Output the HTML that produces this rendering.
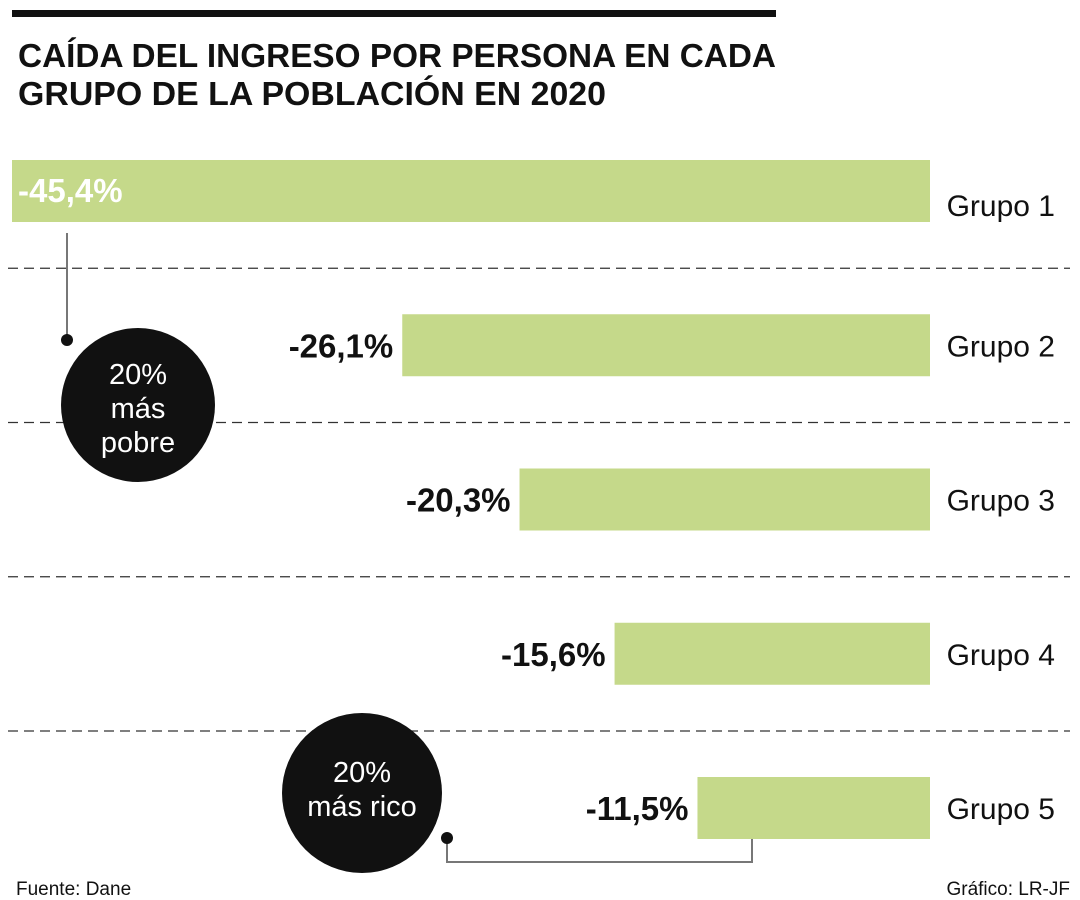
<!DOCTYPE html>
<html><head><meta charset="utf-8"><style>
html,body{margin:0;padding:0;background:#fff;}
svg{display:block;font-family:"Liberation Sans",sans-serif;}
</style></head><body>
<svg id="chart" width="1080" height="900" viewBox="0 0 1080 900">
<rect x="12" y="10" width="764" height="7" fill="#111"/>
<text x="18" y="67" font-size="33" font-weight="bold" fill="#111" textLength="758" lengthAdjust="spacingAndGlyphs">CAÍDA DEL INGRESO POR PERSONA EN CADA</text>
<text x="18" y="105" font-size="33" font-weight="bold" fill="#111" textLength="588" lengthAdjust="spacingAndGlyphs">GRUPO DE LA POBLACIÓN EN 2020</text>
<g id="grid"></g>
<g id="bars"></g>
<line x1="67" y1="233" x2="67" y2="340" stroke="#777" stroke-width="2"/>
<circle cx="67" cy="340" r="6" fill="#111"/>
<circle cx="138" cy="405" r="77" fill="#111"/>
<g fill="#fff" font-size="29" text-anchor="middle">
<text x="138" y="384">20%</text><text x="138" y="418">más</text><text x="138" y="452">pobre</text></g>
<circle cx="362" cy="793" r="80" fill="#111"/>
<g fill="#fff" font-size="29" text-anchor="middle">
<text x="362" y="782">20%</text><text x="362" y="816">más rico</text></g>
<polyline points="447,838 447,862 752,862 752,839" fill="none" stroke="#777" stroke-width="2"/>
<circle cx="447" cy="838" r="6" fill="#111"/>
<text x="16" y="895" font-size="19" fill="#111">Fuente: Dane</text>
<text x="1070" y="895" font-size="19" fill="#111" text-anchor="end">Gráfico: LR-JF</text>
</svg>
<script>
const categories = ["Grupo 1","Grupo 2","Grupo 3","Grupo 4","Grupo 5"];
const values = [-45.4, -26.1, -20.3, -15.6, -11.5];
const valueLabels = ["-45,4%","-26,1%","-20,3%","-15,6%","-11,5%"];
const NS="http://www.w3.org/2000/svg";
const right=930, pxPer=918/45.4, top0=160, step=154.25, bh=62;
const xs=v=>right-Math.abs(v)*pxPer;
const ys=i=>top0+i*step;
const bars=document.getElementById('bars'), grid=document.getElementById('grid');
function mk(t,a,p){const e=document.createElementNS(NS,t);for(const k in a)e.setAttribute(k,a[k]);p.appendChild(e);return e;}
for(let i=1;i<categories.length;i++){
  const y=ys(i)-46;
  const l=mk('line',{x1:8,y1:y,x2:1070,y2:y,stroke:'#333','stroke-width':1.3,'stroke-dasharray':'10 6'},grid);
  
  
}
values.forEach((v,i)=>{
  const x=xs(v), y=ys(i);
  const r=mk('rect',{x:x,y:y,width:right-x,height:bh,fill:'#c5d98a'},bars);
  
  
  let t;
  if(i===0){
    t=mk('text',{x:x+6,y:y+42,'font-size':33,'font-weight':'bold',fill:'#fff'},bars);
  } else {
    t=mk('text',{x:x-9,y:y+43,'font-size':33,'font-weight':'bold',fill:'#111','text-anchor':'end'},bars);
  }
  t.textContent=valueLabels[i];
  
  
  const c=mk('text',{x:1055,y:y+(i===0?56:42),'font-size':30,fill:'#111','text-anchor':'end'},bars);
  c.textContent=categories[i];
  
  
});
</script>
</body></html>
